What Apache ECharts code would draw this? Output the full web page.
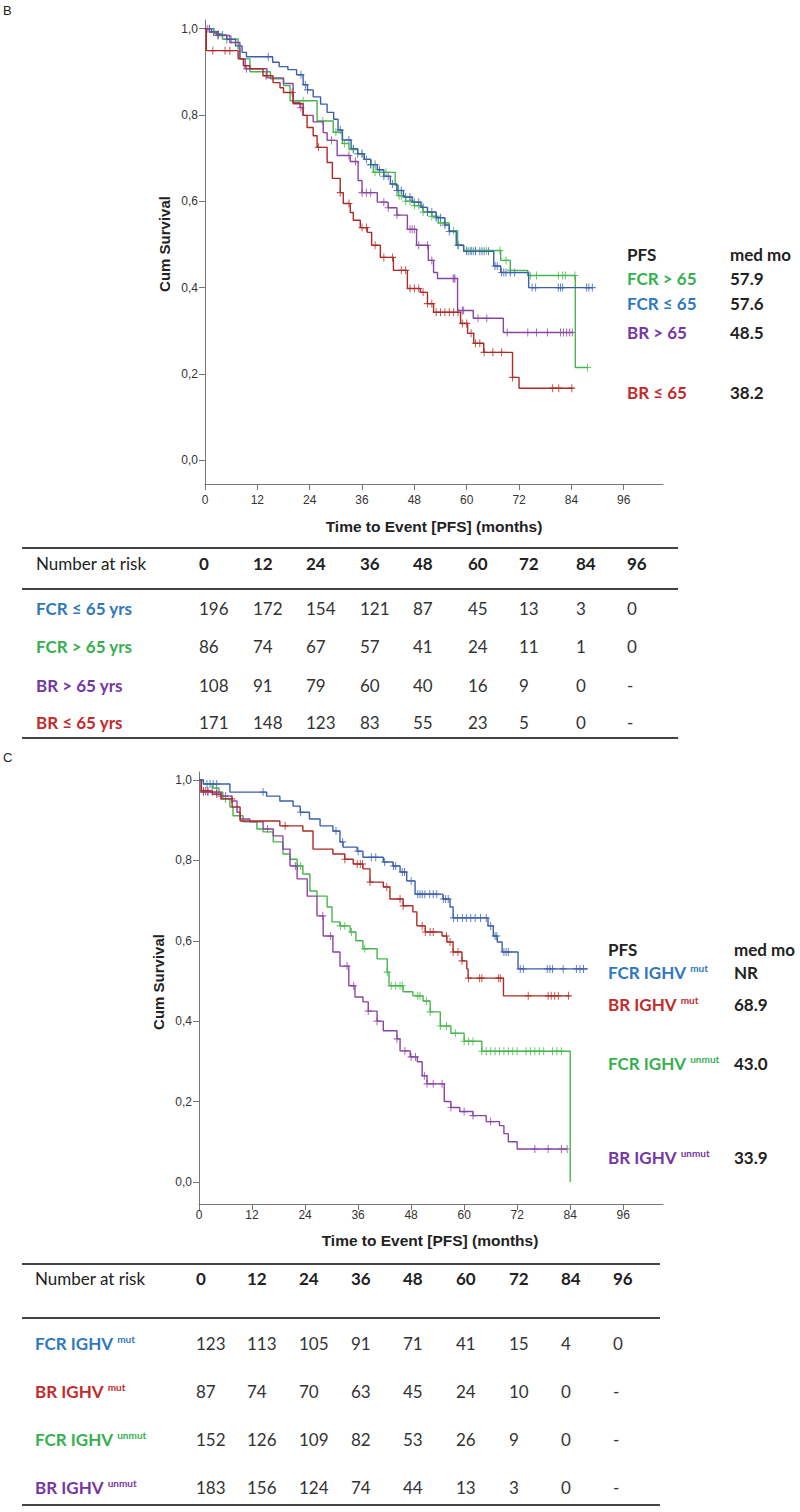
<!DOCTYPE html>
<html>
<head>
<meta charset="utf-8">
<script src="https://cdn.jsdelivr.net/npm/echarts@6/dist/echarts.min.js"></script>
<style>
  html, body { margin: 0; padding: 0; background: #fff; }
  #main { width: 800px; height: 1512px; }
</style>
</head>
<body>
<div id="main"></div>
<script>
// ---- data ----
var months = [0, 12, 24, 36, 48, 60, 72, 84, 96];
var survTicks = [0, 0.2, 0.4, 0.6, 0.8, 1.0];

// panel B : KM steps [month, survival], censor months
var bFcrLe65 = [[0,1],[1.5,0.993],[3,0.985],[5,0.975],[7,0.96],[8.5,0.945],[9.5,0.935],[15.5,0.922],[17,0.912],[19,0.905],[21,0.893],[22.5,0.87],[23.5,0.858],[24.8,0.842],[26.5,0.825],[28,0.806],[29.5,0.79],[30.5,0.765],[31.5,0.742],[33.5,0.722],[35,0.71],[36.5,0.697],[38,0.685],[39.5,0.673],[41,0.658],[42.5,0.64],[44,0.625],[45.5,0.61],[47.5,0.598],[49.5,0.586],[51,0.575],[53,0.562],[55,0.545],[56,0.53],[57.6,0.498],[59.3,0.484],[66.2,0.45],[67.8,0.435],[74.2,0.40],[88.8,0.40]];
var bFcrLe65Cens = [1,2,3,4,5,6,14.5,22,23,23.5,31,33,34,35,36,37,38,39,40,41,42,43,44,45,46,47,48,49,50,51,52,53,54,55,56,58,60,60.5,61,61.5,62,63,63.5,64,65,66.5,67,68,68.5,69,70,71,75,75.8,81,81.5,82,87.5,88,88.8];

var bFcrGt65 = [[0,1],[2,0.988],[4,0.976],[7.6,0.953],[8,0.93],[10.3,0.9],[15,0.884],[18,0.868],[19.5,0.833],[25.7,0.786],[29.4,0.76],[31.5,0.734],[33,0.72],[35,0.71],[36.5,0.697],[38,0.685],[38.6,0.667],[43.6,0.637],[44.3,0.613],[46,0.6],[48,0.59],[50,0.575],[52,0.565],[53.5,0.55],[56,0.532],[57.9,0.498],[59.3,0.486],[67.8,0.463],[70,0.44],[74,0.428],[84.9,0.215],[87.7,0.215]];
var bFcrGt65Cens = [1,3,22.5,27,30,32,34,36,38,39,40,41.5,44.5,45,46,47,48,49,50,51,52,53,54,55,57,58,60,61,62,64.5,67.6,69,70,74.6,76,81,82,82.6,84.8,87.7];

var bBrGt65 = [[0,1],[1,0.992],[2.7,0.984],[5.7,0.968],[8,0.93],[9.2,0.907],[14.2,0.886],[18,0.873],[20.2,0.829],[21.8,0.817],[22.5,0.799],[24.8,0.784],[27.1,0.759],[28,0.741],[30.3,0.706],[33.3,0.692],[35.1,0.648],[36,0.62],[39.5,0.598],[42,0.585],[44,0.568],[46.4,0.535],[48.5,0.498],[51.2,0.463],[52.4,0.435],[53.3,0.421],[57.9,0.347],[61.5,0.329],[68.4,0.296],[84.5,0.296]];
var bBrGt65Cens = [0.5,2,3,9.5,22,29,33,34.5,36,37,38,41,42,44,47,47.5,48,49,51,52,56.9,57.1,57.3,59,59.3,62.6,64.6,69.3,74,76,78.5,81.5,82.2,82.9,83.6,84.2];

var bBrLe65 = [[0,1],[0.3,0.949],[7.6,0.93],[8.8,0.914],[10.3,0.907],[13.3,0.891],[15.6,0.875],[17.2,0.863],[18,0.852],[20.2,0.826],[22.5,0.799],[23.4,0.771],[24.8,0.752],[25.7,0.725],[28,0.69],[29.2,0.653],[31,0.62],[31.7,0.595],[33.3,0.574],[34,0.556],[35.6,0.539],[37.2,0.528],[38.2,0.498],[40.2,0.47],[43.2,0.44],[46.4,0.398],[49.4,0.389],[51,0.363],[52.4,0.343],[58.6,0.317],[60.2,0.294],[61.6,0.271],[63.9,0.25],[70.5,0.192],[72,0.167],[84.5,0.167]];
var bBrLe65Cens = [1.8,4.6,5.7,14,20,26,31,33,36,37,39,41,43,45,46,47,48,49,50,51,52,53,54,55,56,57,58,59,60,61,62,63,64,66,68,70.5,79.7,81.1,84.1];

// panel C
var cFcrMut = [[0,1],[1,0.99],[7,0.97],[15.3,0.96],[18.3,0.948],[21.3,0.935],[22.9,0.92],[25,0.903],[27.4,0.886],[30.3,0.873],[31.9,0.846],[32.6,0.833],[35.8,0.823],[37.1,0.808],[41.7,0.796],[43.9,0.786],[45.5,0.771],[47,0.749],[48.9,0.716],[55.2,0.704],[56.8,0.684],[57.5,0.657],[65.4,0.637],[66.6,0.612],[67.5,0.597],[68.6,0.572],[72.2,0.53],[88,0.53]];
var cFcrMutCens = [1.8,2.5,3.2,4,14.5,23,31,32.5,36,39,40,42,44,44.5,46,46.5,48,49.5,50,50.5,51.1,52.2,53,53.8,55.3,55.8,56.4,57.6,58.5,59.6,60.5,61.5,62.5,63.7,65,66,67,67.4,69,69.5,70,72.7,73.4,78.8,79.4,80,82.4,85.4,86.2,87];

var cBrMut = [[0,1],[0.5,0.973],[3,0.965],[5,0.953],[7.5,0.933],[9.3,0.898],[18.3,0.886],[23.5,0.873],[25.8,0.828],[30.3,0.816],[33,0.803],[34.9,0.791],[37.1,0.779],[38.7,0.746],[41.7,0.734],[43.2,0.704],[46.2,0.687],[48.4,0.672],[49.3,0.637],[51.2,0.622],[55,0.612],[56.1,0.597],[57.5,0.572],[59.5,0.55],[60.6,0.53],[60.9,0.507],[68.9,0.463],[84,0.463]];
var cBrMutCens = [1,1.5,2,4,7.4,19.5,33,35.8,36.5,37,38.7,42.5,45.5,46.2,50.5,51.2,52.3,53,56,56.8,57.5,58.6,59.5,61,63.5,64,67.8,68.2,74.5,79,79.7,80.5,81.3,83.6];

var cFcrUnmut = [[0,1],[1,0.99],[3,0.98],[4.5,0.97],[5.4,0.953],[7,0.933],[7.7,0.911],[10,0.896],[13.1,0.878],[14.5,0.871],[16.8,0.846],[19,0.816],[20.6,0.803],[22.2,0.786],[23.5,0.766],[25.1,0.724],[26.7,0.711],[29,0.684],[30.1,0.647],[31.9,0.637],[34.2,0.622],[35.5,0.6],[37.1,0.58],[40.3,0.555],[42.6,0.522],[43,0.488],[46.2,0.473],[48.4,0.463],[50.7,0.45],[52.3,0.423],[54.6,0.388],[57,0.37],[60,0.35],[64,0.325],[84,0]];
var cFcrUnmutCens = [6,22.3,23,32,33,34.5,37.5,42.6,43.5,44.5,45.5,46,49.5,50,51.5,52.3,54.6,56,58,60,61,62,64,65,66,67,68,69,70,71,72,74,75,76,77,78,80,81,82];

var cBrUnmut = [[0,1],[0.5,0.97],[5,0.96],[7.5,0.948],[8.6,0.92],[9.3,0.903],[11.5,0.896],[14.5,0.878],[16.8,0.861],[19,0.828],[20.6,0.786],[22.2,0.754],[24.5,0.711],[26.7,0.662],[28.1,0.612],[30.3,0.572],[31.9,0.537],[33.9,0.488],[35.3,0.46],[37.1,0.448],[38.3,0.425],[40.3,0.4],[41.7,0.376],[44.8,0.356],[45.5,0.326],[47.8,0.311],[49.4,0.299],[50.5,0.264],[51.6,0.244],[55.5,0.2],[57,0.185],[59,0.175],[62,0.165],[65,0.15],[68,0.14],[69,0.12],[70,0.1],[72,0.082],[83.3,0.082]];
var cBrUnmutCens = [1,2,3,4,5,6,15.5,21.8,28,29.8,33.5,35,38.3,40.3,44.8,46.6,48,49,51,51.6,53,55,57,60,62,66,76,79,82,83.3];

// legends (median months)
var bLegendNames = ['FCR > 65', 'FCR \u2264 65', 'BR > 65', 'BR \u2264 65'];
var bLegendMed = ['57.9', '57.6', '48.5', '38.2'];
var cLegendNames = ['FCR IGHV', 'BR IGHV', 'FCR IGHV', 'BR IGHV'];
var cLegendSup = ['mut', 'mut', 'unmut', 'unmut'];
var cLegendMed = ['NR', '68.9', '43.0', '33.9'];

// number at risk tables
var bRowLabels = ['FCR \u2264 65 yrs', 'FCR > 65 yrs', 'BR > 65 yrs', 'BR \u2264 65 yrs'];
var bRisk = [
  ['196','172','154','121','87','45','13','3','0'],
  ['86','74','67','57','41','24','11','1','0'],
  ['108','91','79','60','40','16','9','0','-'],
  ['171','148','123','83','55','23','5','0','-']
];
var cRowLabels = ['FCR IGHV', 'BR IGHV', 'FCR IGHV', 'BR IGHV'];
var cRowSup = ['mut', 'mut', 'unmut', 'unmut'];
var cRisk = [
  ['123','113','105','91','71','41','15','4','0'],
  ['87','74','70','63','45','24','10','0','-'],
  ['152','126','109','82','53','26','9','0','-'],
  ['183','156','124','74','44','13','3','0','-']
];

// ---- styles ----
var lineCol = { blue: '#3b5fae', green: '#46b64c', purple: '#8a44a4', red: '#ae2a24' };
var textCol = { blue: '#2f78bd', green: '#36b04f', purple: '#7436a2', red: '#c22a2c' };
var axisFont = 'Liberation Sans';
var tabFont = 'Lato';

function tickFmt(v) { return v.toFixed(1).replace('.', ','); }

// y of a KM step function at month t
function censorPoints(steps, times) {
  return times.map(function (t) {
    var s = steps[0][1];
    steps.forEach(function (p) { if (p[0] <= t) s = p[1]; });
    return [t, s];
  });
}

var plusPath = 'path://M4.3,0H5.7V4.3H10V5.7H5.7V10H4.3V5.7H0V4.3H4.3Z';

function kmSeries(idx, steps, cens, color) {
  return [
    { type: 'line', xAxisIndex: idx, yAxisIndex: idx, step: 'end', data: steps,
      showSymbol: false, symbol: 'none', lineStyle: { color: color, width: 1.4 }, animation: false },
    { type: 'scatter', xAxisIndex: idx, yAxisIndex: idx, data: censorPoints(steps, cens),
      symbol: plusPath, symbolSize: [7, 8], itemStyle: { color: color }, animation: false }
  ];
}

function xAxisCfg(idx, margin) {
  return {
    type: 'value', gridIndex: idx, min: 0, max: 105,
    axisLine: { show: true, onZero: false, lineStyle: { color: '#777', width: 1 } },
    axisTick: { show: true, customValues: months, length: 6, lineStyle: { color: '#777' } },
    axisLabel: { customValues: months, color: '#333', fontSize: 12, fontFamily: axisFont, margin: margin },
    splitLine: { show: false }
  };
}
function yAxisCfg(idx) {
  return {
    type: 'value', gridIndex: idx, min: -0.055, max: 1.02,
    axisLine: { show: true, onZero: false, lineStyle: { color: '#777', width: 1 } },
    axisTick: { show: true, customValues: survTicks, length: 6, lineStyle: { color: '#777' } },
    axisLabel: { customValues: survTicks, formatter: tickFmt, color: '#333', fontSize: 12, fontFamily: axisFont, margin: 7 },
    splitLine: { show: false }
  };
}

// ---- graphic: labels, legends, tables ----
var g = [];
function txt(x, y, text, font, fill, align) {
  g.push({ type: 'text', x: x, y: y, silent: true,
    style: { text: text, font: font, fill: fill, align: align || 'left', verticalAlign: 'middle' } });
}
function supTxt(x, y, base, sup, size, fill) {
  g.push({ type: 'text', x: x, y: y, silent: true,
    style: { text: '{a|' + base + ' }{s|' + sup + '}', align: 'left', verticalAlign: 'middle',
      rich: {
        a: { fontFamily: tabFont, fontWeight: 'bold', fontSize: size, fill: fill, verticalAlign: 'bottom' },
        s: { fontFamily: tabFont, fontWeight: 'bold', fontSize: 10, fill: fill, verticalAlign: 'bottom', padding: [0, 0, 8, 0] }
      } } });
}
function rule(x1, x2, y) {
  g.push({ type: 'line', silent: true, shape: { x1: x1, y1: y, x2: x2, y2: y },
    style: { stroke: '#444', lineWidth: 2 } });
}

txt(3, 10, 'B', '13px ' + axisFont, '#222');
txt(3, 757, 'C', '13px ' + axisFont, '#222');

// axis names
g.push({ type: 'text', x: 164, y: 244, rotation: Math.PI / 2, silent: true,
  style: { text: 'Cum Survival', font: 'bold 15px ' + axisFont, fill: '#222', align: 'center', verticalAlign: 'middle' } });
g.push({ type: 'text', x: 158, y: 982, rotation: Math.PI / 2, silent: true,
  style: { text: 'Cum Survival', font: 'bold 15px ' + axisFont, fill: '#222', align: 'center', verticalAlign: 'middle' } });
txt(434, 526, 'Time to Event [PFS] (months)', 'bold 15.5px ' + axisFont, '#222', 'center');
txt(430, 1240, 'Time to Event [PFS] (months)', 'bold 15.5px ' + axisFont, '#222', 'center');

// legend B
var bLegY = [278, 303, 332, 392];
var bLegC = [textCol.green, textCol.blue, textCol.purple, textCol.red];
txt(627, 254, 'PFS', 'bold 17px ' + tabFont, '#222');
txt(730, 254, 'med mo', 'bold 17px ' + tabFont, '#222');
bLegendNames.forEach(function (n, i) {
  txt(627, bLegY[i], n, 'bold 17px ' + tabFont, bLegC[i]);
  txt(730, bLegY[i], bLegendMed[i], 'bold 17px ' + tabFont, '#222');
});

// legend C
var cLegY = [972, 1004, 1063, 1157];
var cLegC = [textCol.blue, textCol.red, textCol.green, textCol.purple];
txt(608, 949, 'PFS', 'bold 17px ' + tabFont, '#222');
txt(734, 949, 'med mo', 'bold 17px ' + tabFont, '#222');
cLegendNames.forEach(function (n, i) {
  supTxt(608, cLegY[i], n, cLegendSup[i], 17, cLegC[i]);
  txt(734, cLegY[i], cLegendMed[i], 'bold 17px ' + tabFont, '#222');
});

// table B
var bColX = [199, 253, 306, 360, 413, 468, 519, 576, 627];
var bRowY = [608, 646, 685, 722];
var bRowC = [textCol.blue, textCol.green, textCol.purple, textCol.red];
rule(22, 678, 548);
rule(22, 678, 589);
rule(22, 678, 738);
txt(36, 563, 'Number at risk', '17px ' + tabFont, '#222');
months.forEach(function (m, j) { txt(bColX[j], 563, String(m), 'bold 17px ' + tabFont, '#222'); });
bRowLabels.forEach(function (lab, i) {
  txt(36, bRowY[i], lab, 'bold 17px ' + tabFont, bRowC[i]);
  bRisk[i].forEach(function (v, j) { txt(bColX[j], bRowY[i], v, '17px ' + tabFont, '#333'); });
});

// table C
var cColX = [196, 247, 299, 351, 403, 456, 509, 561, 613];
var cRowY = [1343, 1391, 1439, 1487];
var cRowC = [textCol.blue, textCol.red, textCol.green, textCol.purple];
rule(22, 660, 1264);
rule(22, 660, 1318);
rule(22, 660, 1505);
txt(35, 1278, 'Number at risk', '17px ' + tabFont, '#222');
months.forEach(function (m, j) { txt(cColX[j], 1278, String(m), 'bold 17px ' + tabFont, '#222'); });
cRowLabels.forEach(function (lab, i) {
  supTxt(35, cRowY[i], lab, cRowSup[i], 17, cRowC[i]);
  cRisk[i].forEach(function (v, j) { txt(cColX[j], cRowY[i], v, '17px ' + tabFont, '#333'); });
});

var series = []
  .concat(kmSeries(0, bFcrGt65, bFcrGt65Cens, lineCol.green))
  .concat(kmSeries(0, bFcrLe65, bFcrLe65Cens, lineCol.blue))
  .concat(kmSeries(0, bBrGt65, bBrGt65Cens, lineCol.purple))
  .concat(kmSeries(0, bBrLe65, bBrLe65Cens, lineCol.red))
  .concat(kmSeries(1, cFcrUnmut, cFcrUnmutCens, lineCol.green))
  .concat(kmSeries(1, cBrUnmut, cBrUnmutCens, lineCol.purple))
  .concat(kmSeries(1, cBrMut, cBrMutCens, lineCol.red))
  .concat(kmSeries(1, cFcrMut, cFcrMutCens, lineCol.blue));

var chart = echarts.init(document.getElementById('main'), null, { renderer: 'svg' });
chart.setOption({
  backgroundColor: '#fff',
  animation: false,
  grid: [
    { left: 205, top: 20, width: 458, height: 464 },
    { left: 199, top: 772, width: 464, height: 432 }
  ],
  xAxis: [xAxisCfg(0, 10), xAxisCfg(1, 5)],
  yAxis: [yAxisCfg(0), yAxisCfg(1)],
  series: series,
  graphic: g
});
</script>
</body>
</html>
